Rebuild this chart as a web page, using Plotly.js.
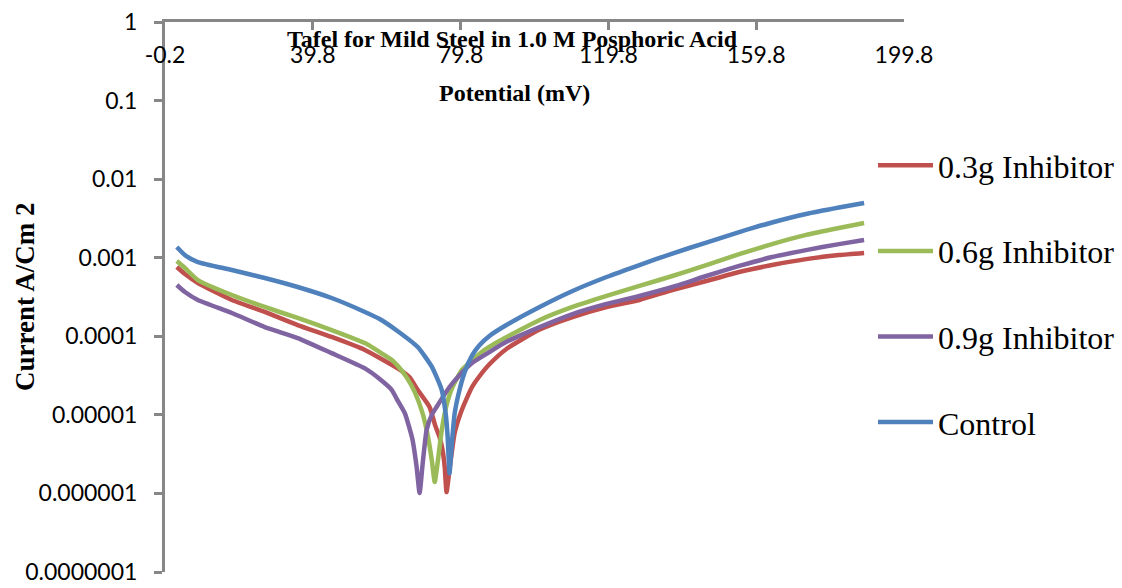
<!DOCTYPE html>
<html>
<head>
<meta charset="utf-8">
<script src="https://cdn.plot.ly/plotly-3.0.1.min.js"></script>
<style>html,body{margin:0;padding:0;background:#fff;}#chart{width:1122px;height:588px;}</style>
</head>
<body>
<div id="chart"></div>
<script>
// Potential (mV) and current density (A/cm2)
const xTickVals = [-0.2, 39.8, 79.8, 119.8, 159.8, 199.8];
const xTickText = ["-0.2", "39.8", "79.8", "119.8", "159.8", "199.8"];
const yTickVals = [1, 0.1, 0.01, 0.001, 0.0001, 0.00001, 0.000001, 0.0000001];
const yTickText = ["1", "0.1", "0.01", "0.001", "0.0001", "0.00001", "0.000001", "0.0000001"];

const seriesNames = ["0.3g Inhibitor", "0.6g Inhibitor", "0.9g Inhibitor", "Control"];
const seriesColors = ["#C0504D", "#9BBB59", "#8064A2", "#4F81BD"];

const potential03 = [3.0, 5.2, 8.7, 17.9, 26.8, 35.7, 44.9, 53.9, 57.9, 62.8, 66.0, 68.2, 71.4, 72.9, 74.1, 74.9, 75.5, 76.0, 76.8, 78.2, 79.8, 81.4, 83.0, 84.9, 87.6, 92.2, 101.2, 110.1, 119.3, 128.2, 137.1, 146.3, 155.2, 164.1, 173.3, 182.2, 189.0];
const current03 = [7.62e-4, 6.2e-4, 4.77e-4, 2.9e-4, 2.04e-4, 1.39e-4, 9.8e-5, 6.7e-5, 5.3e-5, 3.9e-5, 3.0e-5, 2.07e-5, 1.26e-5, 7.4e-6, 5.2e-6, 3.6e-6, 2.17e-6, 1.04e-6, 2.0e-6, 5.9e-6, 1.05e-5, 1.6e-5, 2.3e-5, 3.1e-5, 4.4e-5, 6.9e-5, 1.22e-4, 1.76e-4, 2.36e-4, 2.9e-4, 3.88e-4, 5.05e-4, 6.58e-4, 8.07e-4, 9.6e-4, 1.08e-3, 1.15e-3];

const potential06 = [3.0, 5.2, 8.7, 17.9, 26.8, 35.7, 44.9, 53.9, 57.9, 61.2, 63.3, 65.2, 67.4, 69.5, 70.9, 72.0, 72.8, 73.6, 74.7, 76.0, 77.6, 80.1, 82.2, 86.3, 90.3, 101.2, 110.1, 119.3, 128.2, 137.1, 146.3, 155.2, 164.1, 173.3, 182.2, 189.0];
const current06 = [9.08e-4, 7.4e-4, 5.2e-4, 3.35e-4, 2.36e-4, 1.71e-4, 1.2e-4, 8.2e-5, 6.3e-5, 5.0e-5, 3.95e-5, 3.0e-5, 1.95e-5, 1.05e-5, 5.5e-6, 2.66e-6, 1.4e-6, 2.5e-6, 6.4e-6, 1.33e-5, 2.26e-5, 3.7e-5, 4.6e-5, 6.7e-5, 8.7e-5, 1.61e-4, 2.36e-4, 3.26e-4, 4.37e-4, 5.85e-4, 8.07e-4, 1.11e-3, 1.49e-3, 1.95e-3, 2.39e-3, 2.77e-3];

const potential09 = [3.0, 5.2, 8.7, 17.9, 26.8, 35.7, 44.9, 53.9, 57.9, 61.2, 62.5, 64.7, 66.8, 67.9, 68.7, 69.5, 70.6, 72.0, 73.3, 76.8, 79.5, 83.0, 87.6, 92.2, 101.2, 110.1, 119.3, 128.2, 137.1, 146.3, 155.2, 164.1, 173.3, 182.2, 189.0];
const current09 = [4.5e-4, 3.66e-4, 2.9e-4, 1.98e-4, 1.31e-4, 9.5e-5, 6.1e-5, 3.9e-5, 2.86e-5, 2.07e-5, 1.6e-5, 1.05e-5, 4.8e-6, 2.17e-6, 1.01e-6, 2.3e-6, 6.4e-6, 1.0e-5, 1.26e-5, 2.26e-5, 3.2e-5, 4.6e-5, 6.3e-5, 8.5e-5, 1.31e-4, 1.92e-4, 2.58e-4, 3.26e-4, 4.24e-4, 5.85e-4, 7.85e-4, 1.02e-3, 1.25e-3, 1.49e-3, 1.68e-3];

const potentialCtrl = [3.0, 5.2, 8.7, 17.9, 26.8, 35.7, 44.9, 53.9, 57.9, 62.8, 68.2, 72.0, 74.7, 75.8, 76.3, 76.8, 77.4, 78.2, 79.5, 80.9, 83.0, 84.9, 87.6, 92.2, 101.2, 110.1, 119.3, 128.2, 137.1, 146.3, 155.2, 164.1, 173.3, 182.2, 189.0];
const currentCtrl = [1.37e-3, 1.08e-3, 8.8e-4, 6.98e-4, 5.52e-4, 4.24e-4, 3.07e-4, 2.04e-4, 1.66e-4, 1.16e-4, 7.3e-5, 4.1e-5, 2.07e-5, 1.0e-5, 5.2e-6, 1.8e-6, 4.1e-6, 1.05e-5, 2.07e-5, 3.5e-5, 5.8e-5, 7.7e-5, 1.01e-4, 1.39e-4, 2.36e-4, 3.77e-4, 5.68e-4, 8.07e-4, 1.13e-3, 1.56e-3, 2.12e-3, 2.81e-3, 3.6e-3, 4.35e-3, 4.97e-3];

const xs = [potential03, potential06, potential09, potentialCtrl];
const ys = [current03, current06, current09, currentCtrl];

const traces = seriesNames.map((name, i) => ({
  type: "scatter",
  mode: "lines",
  name: name,
  legendgroup: "g" + i,
  x: xs[i],
  y: ys[i],
  line: {color: seriesColors[i], width: 4.5, shape: "spline", smoothing: 0.5},
  hoverinfo: "x+y+name"
}));

const axisGrey = "#878787";
const serif = "Liberation Serif, Times New Roman, serif";
const sans = "Lato, Carlito, sans-serif";
const layout = {
  width: 1122,
  height: 588,
  margin: {l: 165, r: 218, t: 22, b: 16, pad: 0, autoexpand: false},
  paper_bgcolor: "#ffffff",
  plot_bgcolor: "#ffffff",
  showlegend: true,
  title: {
    text: "<b>Tafel for Mild Steel in 1.0 M Posphoric Acid</b>",
    font: {family: serif, size: 24, color: "#000"},
    x: 512 / 1122, xanchor: "center", xref: "container",
    y: 1 - 39 / 588, yanchor: "middle", yref: "container"
  },
  xaxis: {
    range: [-0.2, 199.8],
    side: "top",
    showline: true, linecolor: axisGrey, linewidth: 3,
    ticks: "inside", ticklen: 8, tickwidth: 3, tickcolor: axisGrey,
    tickmode: "array", tickvals: xTickVals, ticktext: xTickText,
    ticklabelposition: "inside", ticklabeloverflow: "allow", ticklabelstandoff: 19,
    tickfont: {family: sans, size: 23, color: "#000"},
    showgrid: false, zeroline: false
  },
  yaxis: {
    type: "log",
    range: [-7, 0],
    showline: true, linecolor: axisGrey, linewidth: 3,
    ticks: "outside", ticklen: 8, tickwidth: 3, tickcolor: axisGrey,
    tickmode: "array", tickvals: yTickVals, ticktext: yTickText,
    ticklabelstandoff: 12,
    tickfont: {family: sans, size: 23, color: "#000"},
    showgrid: false, zeroline: false
  },
  legend: {
    x: (873 - 165) / 739, xanchor: "left",
    y: 1 - (138 - 22) / 550, yanchor: "top",
    font: {family: serif, size: 32, color: "#000"},
    itemwidth: 55,
    traceorder: "grouped", tracegroupgap: 41,
    bgcolor: "rgba(0,0,0,0)", borderwidth: 0
  },
  annotations: [
    {
      text: "<b>Potential (mV)</b>", xref: "paper", yref: "paper",
      x: (514 - 165) / 739, y: 1 - (93 - 22) / 550, xanchor: "center", yanchor: "middle",
      showarrow: false,
      font: {family: serif, size: 24, color: "#000"}
    },
    {
      text: "<b>Current A/Cm 2</b>", xref: "paper", yref: "paper",
      x: (25 - 165) / 739, y: 1 - (297 - 22) / 550, xanchor: "center", yanchor: "middle",
      textangle: -90, showarrow: false,
      font: {family: serif, size: 27, color: "#000"}
    }
  ]
};

Plotly.newPlot("chart", traces, layout, {displayModeBar: false});
</script>
</body>
</html>
